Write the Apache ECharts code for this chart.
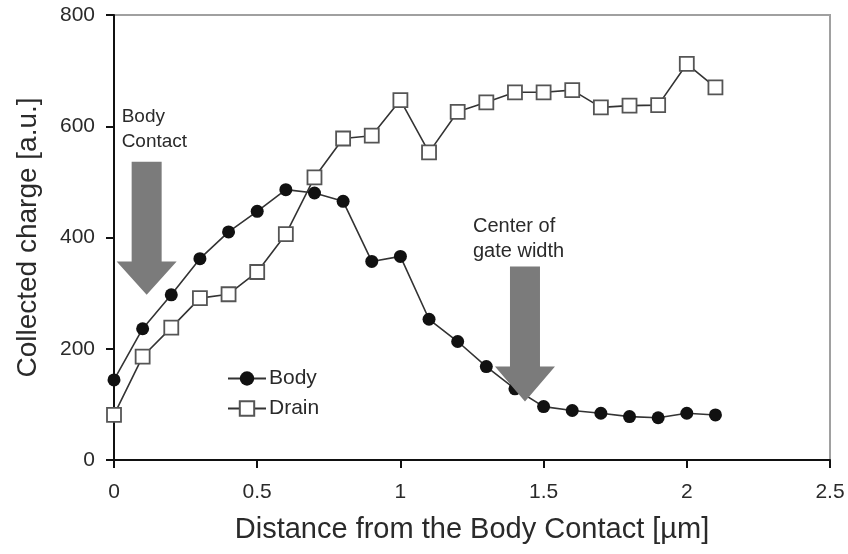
<!DOCTYPE html>
<html><head><meta charset="utf-8">
<script src="https://cdn.jsdelivr.net/npm/echarts@6/dist/echarts.min.js"></script>
<style>html,body{margin:0;padding:0;background:#fff}#c{width:848px;height:554px}</style>
</head><body><div id="c"></div>
<script>
const distances = [0,0.1,0.2,0.3,0.4,0.5,0.6,0.7,0.8,0.9,1.0,1.1,1.2,1.3,1.4,1.5,1.6,1.7,1.8,1.9,2.0,2.1];
const bodyCharge = [144,236,297,362,410,447,486,480,465,357,366,253,213,168,128,96,89,84,78,76,84,81];
const drainCharge = [81,186,238,291,298,338,406,508,578,583,647,553,626,643,661,661,665,634,637,638,712,670];
const xTicks = {min:0, max:2.5, step:0.5};
const yTicks = {min:0, max:800, step:200};
// annotation arrows in data units: [centerX, shaftTopY, headTopY, tipY]
const arrowBody = [0.114, 536, 357, 297];
const arrowGate = [1.435, 348, 168, 105];
const noteBody = ['Body', 'Contact'];
const noteGate = ['Center of', 'gate width'];

const FONT = '"Liberation Sans", Arial, sans-serif';
const chart = echarts.init(document.getElementById('c'), null, {renderer:'canvas'});
const pair = (xs, ys) => xs.map((x,i)=>[x, ys[i]]);

chart.setOption({
  animation:false,
  backgroundColor:'#fff',
  textStyle:{fontFamily:FONT},
  grid:{left:114, right:18, top:15, bottom:94, show:true, borderColor:'#a0a0a0', borderWidth:2},
  legend:{
    orient:'vertical', left:222, top:363, itemWidth:38, itemHeight:18, itemGap:9,
    textStyle:{fontSize:21, color:'#2a2a2a', fontFamily:FONT, padding:[0,0,0,-2]},
    data:['Body','Drain']
  },
  xAxis:{
    type:'value', min:xTicks.min, max:xTicks.max, interval:xTicks.step,
    name:'Distance from the Body Contact [µm]', nameLocation:'middle', nameGap:55,
    nameTextStyle:{fontSize:29, color:'#2a2a2a', fontFamily:FONT},
    axisLine:{show:true, onZero:false, lineStyle:{color:'#111', width:2}},
    axisTick:{show:true, inside:false, length:8, lineStyle:{color:'#111', width:2}},
    axisLabel:{fontSize:21, color:'#2a2a2a', margin:22, fontFamily:FONT},
    splitLine:{show:false}
  },
  yAxis:{
    type:'value', min:yTicks.min, max:yTicks.max, interval:yTicks.step,
    name:'Collected charge [a.u.]', nameLocation:'middle', nameGap:72,
    nameTextStyle:{fontSize:28, color:'#2a2a2a', fontFamily:FONT},
    axisLine:{show:true, lineStyle:{color:'#111', width:2}},
    axisTick:{show:true, inside:false, length:8, lineStyle:{color:'#111', width:2}},
    axisLabel:{fontSize:21, color:'#2a2a2a', margin:19, fontFamily:FONT},
    splitLine:{show:false}
  },
  series:[
    {name:'Body', type:'line', data:pair(distances, bodyCharge), symbol:'circle', symbolSize:13,
     itemStyle:{color:'#111'}, lineStyle:{color:'#333', width:1.6}, z:3},
    {name:'Drain', type:'line', data:pair(distances, drainCharge), symbol:'rect', symbolSize:14,
     itemStyle:{color:'#fff', borderColor:'#555', borderWidth:1.8}, lineStyle:{color:'#333', width:1.6}, z:2}
  ]
});

function arrowPoly(a){
  const [cx, sTop, hTop, tip] = a;
  const c = chart.convertToPixel({gridIndex:0}, [cx, sTop]);
  const h = chart.convertToPixel({gridIndex:0}, [cx, hTop]);
  const t = chart.convertToPixel({gridIndex:0}, [cx, tip]);
  const sw = 15, hw = 30;
  return [[c[0]-sw, c[1]], [c[0]+sw, c[1]], [c[0]+sw, h[1]], [c[0]+hw, h[1]], [t[0], t[1]],
          [c[0]-hw, h[1]], [c[0]-sw, h[1]]];
}
const pb = chart.convertToPixel({gridIndex:0}, [arrowBody[0], arrowBody[1]]);
const pg = chart.convertToPixel({gridIndex:0}, [arrowGate[0], arrowGate[1]]);
chart.setOption({
  graphic:[
    {type:'polygon', shape:{points:arrowPoly(arrowBody)}, style:{fill:'#7b7b7b'}, z:10},
    {type:'polygon', shape:{points:arrowPoly(arrowGate)}, style:{fill:'#7b7b7b'}, z:10},
    {type:'text', x:pb[0]-25, y:pb[1]-58, z:20,
      style:{text:noteBody.join('\n'), fontSize:19, lineHeight:25, fill:'#2a2a2a', fontFamily:FONT}},
    {type:'text', x:pg[0]-52, y:pg[1]-52, z:20,
      style:{text:noteGate.join('\n'), fontSize:20, lineHeight:25, fill:'#2a2a2a', fontFamily:FONT}}
  ]
});
</script></body></html>
